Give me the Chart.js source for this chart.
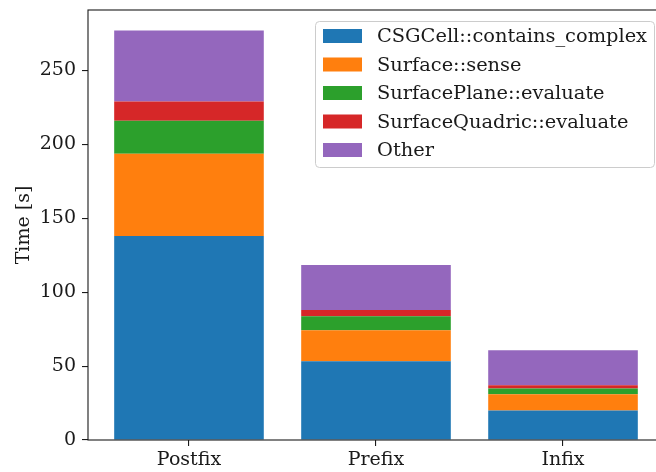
<!DOCTYPE html>
<html>
<head>
<meta charset="utf-8">
<script src="https://cdn.jsdelivr.net/npm/chart.js@4/dist/chart.umd.min.js"></script>
<style>
  html, body { margin: 0; padding: 0; background: #fff; overflow: hidden; }
  #wrap { width: 656px; height: 472px; overflow: hidden; }
  canvas { display: block; }
</style>
</head>
<body>
<div id="wrap"><canvas id="c" width="680" height="472"></canvas></div>
<script>
// Profiling time per function for three expression orderings (seconds)
const categories = ['Postfix', 'Prefix', 'Infix'];
const seriesNames = [
  'CSGCell::contains_complex',
  'Surface::sense',
  'SurfacePlane::evaluate',
  'SurfaceQuadric::evaluate',
  'Other'
];
const containsComplex = [138.0, 53.3, 20.0];
const surfaceSense    = [55.7, 21.0, 10.9];
const planeEvaluate   = [22.4, 9.5, 4.0];
const quadricEvaluate = [12.9, 4.1, 2.1];
const other           = [48.1, 30.5, 23.7];
const yTickValues = [0, 50, 100, 150, 200, 250];

const seriesValues = [containsComplex, surfaceSense, planeEvaluate, quadricEvaluate, other];
const colors = ['#1f77b4', '#ff7f0e', '#2ca02c', '#d62728', '#9467bd'];

const FONT = '"DejaVu Serif", serif';
const INK = '#1a1a1a';

const totals = categories.map((_, i) => seriesValues.reduce((s, arr) => s + arr[i], 0));
const yMax = Math.max(...totals) * 1.05;
const xPad = 0.4 + 0.05 * (categories.length - 1 + 0.8);

const datasets = seriesNames.map((name, k) => ({
  label: name,
  data: categories.map((_, i) => ({ x: i, y: seriesValues[k][i] })),
  backgroundColor: colors[k],
  borderWidth: 0,
  categoryPercentage: 1.0,
  barPercentage: 0.8
}));

// Axes frame (all four spines), drawn above the bars
const framePlugin = {
  id: 'frame',
  afterDatasetsDraw(chart) {
    const a = chart.chartArea, ctx = chart.ctx;
    ctx.save();
    ctx.strokeStyle = INK;
    ctx.lineWidth = 1.1;
    ctx.strokeRect(a.left, a.top, a.right - a.left, a.bottom - a.top);
    ctx.restore();
  }
};

// Legend box in the upper right of the plot area
const legendPlugin = {
  id: 'boxLegend',
  afterDraw(chart) {
    const ctx = chart.ctx;
    const x0 = 315, y0 = 21, w = 339, h = 146, r = 4;
    ctx.save();
    ctx.beginPath();
    ctx.roundRect(x0 + 0.5, y0 + 0.5, w, h, r);
    ctx.fillStyle = 'rgba(255,255,255,0.8)';
    ctx.fill();
    ctx.strokeStyle = '#cccccc';
    ctx.lineWidth = 1;
    ctx.stroke();
    ctx.font = '19.4px ' + FONT;
    ctx.textBaseline = 'middle';
    chart.data.datasets.forEach((ds, k) => {
      const cy = 36 + k * 28.5;
      ctx.fillStyle = ds.backgroundColor;
      ctx.fillRect(323, cy - 7, 39, 14);
      ctx.fillStyle = INK;
      ctx.fillText(ds.label, 377, cy + 1);
    });
    ctx.restore();
  }
};

new Chart(document.getElementById('c'), {
  type: 'bar',
  data: { datasets },
  options: {
    responsive: false,
    animation: false,
    devicePixelRatio: 1,
    layout: { padding: { top: 10, right: 16, left: 0, bottom: 0 } },
    plugins: { legend: { display: false }, tooltip: { enabled: false } },
    scales: {
      x: {
        type: 'linear',
        stacked: true,
        offset: false,
        min: -xPad,
        max: categories.length - 1 + xPad,
        afterBuildTicks: s => { s.ticks = categories.map((_, i) => ({ value: i })); },
        afterFit: s => { s.height = 32; s.paddingLeft = 0; s.paddingRight = 0; },
        grid: { offset: false, drawOnChartArea: false, drawTicks: true, tickLength: 6, color: INK, lineWidth: 1.1 },
        border: { display: false },
        ticks: {
          autoSkip: false,
          maxRotation: 0,
          padding: 3,
          color: INK,
          font: { family: FONT, size: 19 },
          callback: v => categories[v]
        }
      },
      y: {
        stacked: true,
        min: 0,
        max: yMax,
        afterBuildTicks: s => { s.ticks = yTickValues.map(v => ({ value: v })); },
        afterFit: s => { s.width = 88; s.paddingTop = 0; s.paddingBottom = 0; },
        grid: { drawOnChartArea: false, drawTicks: true, tickLength: 6, color: INK, lineWidth: 1.1 },
        border: { display: false },
        ticks: {
          padding: 6,
          color: INK,
          font: { family: FONT, size: 19 }
        },
        title: {
          display: true,
          text: 'Time [s]',
          color: INK,
          font: { family: FONT, size: 19 },
          padding: { top: 13, bottom: 4 }
        }
      }
    }
  },
  plugins: [framePlugin, legendPlugin]
});
</script>
</body>
</html>
